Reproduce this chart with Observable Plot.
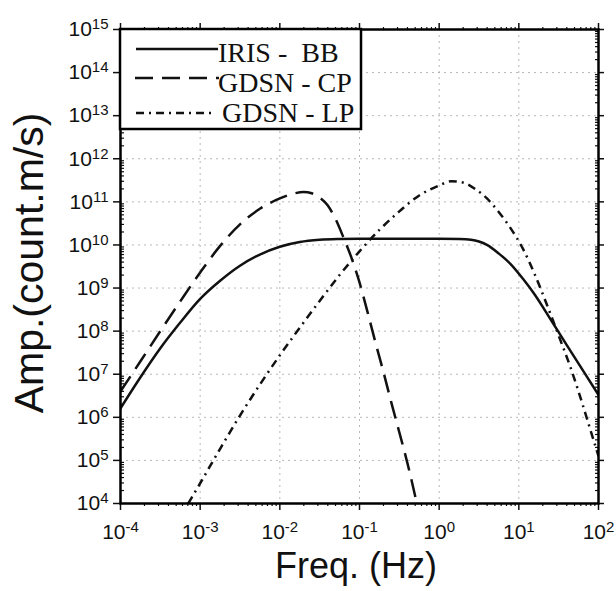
<!DOCTYPE html>
<html>
<head>
<meta charset="utf-8">
<script src="https://cdn.jsdelivr.net/npm/d3@7"></script>
<script src="https://cdn.jsdelivr.net/npm/@observablehq/plot@0.6"></script>
<style>
html, body { margin: 0; padding: 0; background: #fff; }
svg { display: block; }
</style>
</head>
<body>
<div id="chart"></div>
<script>
// ---- Data ----
const seriesNames = ["IRIS -  BB", "GDSN - CP", "GDSN - LP"];

const irisFreq = [1e-4, 1.78e-4, 3.16e-4, 5.62e-4, 1e-3, 1.78e-3, 3.16e-3, 5.62e-3, 1e-2, 1.78e-2, 3.16e-2, 5.62e-2, 0.1, 1, 1.78, 2.51, 3.16, 3.98, 5.62, 7.94, 11.2, 15.8, 25.1, 39.8, 63.1, 100];
const irisAmp  = [1.62e6, 8.5e6, 4.0e7, 1.58e8, 5.6e8, 1.48e9, 3.3e9, 6.0e9, 9.1e9, 1.17e10, 1.32e10, 1.38e10, 1.4e10, 1.4e10, 1.38e10, 1.32e10, 1.2e10, 1.0e10, 6.3e9, 3.55e9, 1.66e9, 7.1e8, 1.86e8, 4.8e7, 1.26e7, 3.3e6];

const cpFreq = [1e-4, 1.78e-4, 3.16e-4, 5.62e-4, 1e-3, 1.78e-3, 3.16e-3, 5.62e-3, 1e-2, 1.41e-2, 2.0e-2, 2.51e-2, 3.16e-2, 3.98e-2, 5.0e-2, 6.3e-2, 7.94e-2, 0.1, 0.126, 0.158, 0.2, 0.251, 0.316, 0.398, 0.525];
const cpAmp  = [4.0e6, 2.0e7, 1.0e8, 4.9e8, 2.3e9, 9.5e9, 3.0e10, 6.9e10, 1.2e11, 1.51e11, 1.7e11, 1.58e11, 1.26e11, 8.3e10, 4.0e10, 1.48e10, 5.0e9, 1.35e9, 2.8e8, 5.6e7, 1.12e7, 2.2e6, 4.5e5, 8.9e4, 1.0e4];

const lpFreq = [7.08e-4, 1e-3, 1.78e-3, 3.16e-3, 5.62e-3, 1e-2, 1.78e-2, 3.16e-2, 5.62e-2, 0.1, 0.178, 0.316, 0.562, 1, 1.41, 2.0, 2.82, 3.98, 5.62, 7.94, 11.2, 15.8, 22.4, 31.6, 44.7, 63.1, 79.4, 100];
const lpAmp  = [1e4, 2.95e4, 1.86e5, 1.1e6, 5.75e6, 2.75e7, 1.2e8, 5.0e8, 2.0e9, 7.1e9, 2.24e10, 6.0e10, 1.41e11, 2.4e11, 3.0e11, 2.8e11, 2.0e11, 1.2e11, 5.75e10, 2.4e10, 8.3e9, 2.1e9, 4.2e8, 7.9e7, 1.41e7, 2.0e6, 5.0e5, 1.26e5];

const xTicks = [1e-4, 1e-3, 1e-2, 1e-1, 1, 10, 100];
const yTicks = [1e4, 1e5, 1e6, 1e7, 1e8, 1e9, 1e10, 1e11, 1e12, 1e13, 1e14, 1e15];
const minorMultipliers = [2, 3, 4, 5, 6, 7, 8, 9];

const xLabel = "Freq. (Hz)";
const yLabel = "Amp.(count.m/s)";

// ---- Build tables ----
const toRows = (fs, as) => fs.map((f, i) => ({f, a: as[i]}));
const iris = toRows(irisFreq, irisAmp);
const cp = toRows(cpFreq, cpAmp);
const lp = toRows(lpFreq, lpAmp);

const xMinor = xTicks.slice(0, -1).flatMap(d => minorMultipliers.map(m => m * d));
const yMinor = yTicks.slice(0, -1).flatMap(d => minorMultipliers.map(m => m * d));

const fmt = d => "10^" + Math.round(Math.log10(d));
const blank = () => "";

const dashes = {solid: null, dashed: "18,9", dashdot: "8,5,2,5"};
const curve = "monotone-x";

const plot = Plot.plot({
  width: 616,
  height: 591,
  marginLeft: 120,
  marginRight: 18,
  marginTop: 29,
  marginBottom: 88,
  x: {type: "log", domain: [1e-4, 1e2], label: null},
  y: {type: "log", domain: [1e4, 1e15], label: null},
  style: {fontFamily: "'Liberation Sans', Arial, Helvetica, sans-serif", fontSize: "21px", color: "#111", background: "#fff"},
  marks: [
    Plot.gridX(xTicks, {stroke: "#999", strokeOpacity: 0.7, strokeDasharray: "2,4"}),
    Plot.gridY(yTicks, {stroke: "#999", strokeOpacity: 0.7, strokeDasharray: "2,4"}),
    Plot.axisX(xMinor, {anchor: "bottom", tickSize: 3, tickFormat: blank, label: null, strokeWidth: 1.2}),
    Plot.axisX(xTicks, {anchor: "bottom", tickSize: 7, tickPadding: 14, tickFormat: fmt, label: null, strokeWidth: 1.5, fontSize: 21}),
    Plot.axisX(xMinor, {anchor: "top", tickSize: 3, tickFormat: blank, label: null, strokeWidth: 1.2}),
    Plot.axisX(xTicks, {anchor: "top", tickSize: 7, tickFormat: blank, label: null, strokeWidth: 1.5}),
    Plot.axisY(yMinor, {anchor: "left", tickSize: -4, tickFormat: blank, label: null, strokeWidth: 1.2}),
    Plot.axisY(yTicks, {anchor: "left", tickSize: 7, tickPadding: 5, tickFormat: fmt, label: null, strokeWidth: 1.5, fontSize: 21}),
    Plot.axisY(yMinor, {anchor: "right", tickSize: -4, tickFormat: blank, label: null, strokeWidth: 1.2}),
    Plot.axisY(yTicks, {anchor: "right", tickSize: 5, tickFormat: blank, label: null, strokeWidth: 1.5}),
    Plot.line(iris, {x: "f", y: "a", stroke: "#111", strokeWidth: 2.5, curve, clip: true}),
    Plot.line(cp, {x: "f", y: "a", stroke: "#111", strokeWidth: 2.5, strokeDasharray: dashes.dashed, strokeLinecap: "butt", curve, clip: true}),
    Plot.line(lp, {x: "f", y: "a", stroke: "#111", strokeWidth: 2.5, strokeDasharray: dashes.dashdot, strokeLinecap: "butt", curve, clip: true}),
    Plot.frame({stroke: "#000", strokeWidth: 2.5})
  ]
});

// Superscript tick labels
d3.select(plot).selectAll("text").each(function() {
  const m = /^10\^(-?\d+)$/.exec(this.textContent);
  if (m) {
    const t = d3.select(this);
    t.text(null);
    t.append("tspan").text("10");
    t.append("tspan").attr("dy", "-7").attr("font-size", 15).text(m[1]);
  }
});

const svg = d3.select(plot);
const font = "'Liberation Sans', Arial, Helvetica, sans-serif";

// Axis titles
svg.append("text")
  .attr("x", 356).attr("y", 578)
  .attr("text-anchor", "middle")
  .attr("font-family", font).attr("font-size", 36).attr("fill", "#111")
  .text(xLabel);
svg.append("text")
  .attr("transform", "translate(43,263) rotate(-90)")
  .attr("text-anchor", "middle")
  .attr("font-family", font).attr("font-size", 41).attr("fill", "#111")
  .text(yLabel);

// Legend
const lg = svg.append("g");
lg.append("rect").attr("x", 120).attr("y", 29).attr("width", 241).attr("height", 100)
  .attr("fill", "#fff").attr("stroke", "#000").attr("stroke-width", 2.5);
const rows = [
  {name: seriesNames[0], dash: dashes.solid, ly: 49, ty: 62, x1: 136, x2: 218, tx: 218},
  {name: seriesNames[1], dash: dashes.dashed, ly: 78, ty: 92, x1: 135, x2: 219, tx: 218},
  {name: seriesNames[2], dash: dashes.dashdot, ly: 113, ty: 122, x1: 136, x2: 216, tx: 222}
];
rows.forEach(r => {
  lg.append("line").attr("x1", r.x1).attr("x2", r.x2).attr("y1", r.ly).attr("y2", r.ly)
    .attr("stroke", "#111").attr("stroke-width", 2.5)
    .attr("stroke-dasharray", r.dash);
  lg.append("text").attr("x", r.tx).attr("y", r.ty)
    .attr("text-anchor", "start")
    .attr("font-family", "'Liberation Serif', 'Times New Roman', serif")
    .attr("font-size", 28).attr("fill", "#111")
    .style("white-space", "pre")
    .text(r.name);
});

document.getElementById("chart").appendChild(plot);
</script>
</body>
</html>
